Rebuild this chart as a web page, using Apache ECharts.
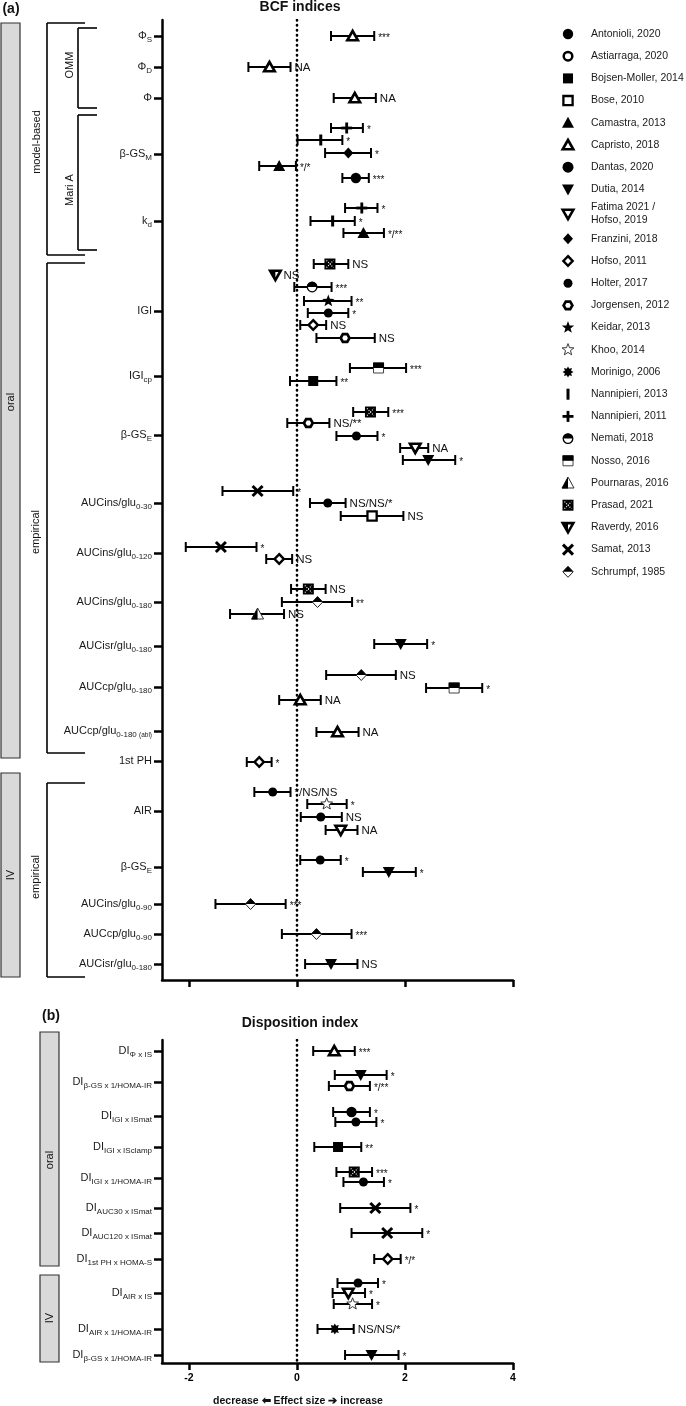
<!DOCTYPE html>
<html><head><meta charset="utf-8">
<script src="https://cdn.jsdelivr.net/npm/echarts@6/dist/echarts.min.js"></script>
<style>html,body{margin:0;padding:0;background:#fff}#c{width:686px;height:1406px}</style>
</head><body><div id="c"></div>
<script>
const FONT = '"Liberation Sans", Arial, sans-serif';

// ---- studies (legend order) ----
const studyKeys = ['Ant','Ast','Boj','Bos','Cam','Cap','Dan','Dut','Fat','Fra','Hof11','Hol','Jor','Kei','Kho','Mor','N13','N11','Nem','Nos','Pou','Pra','Rav','Sam','Sch'];
const studyNames = ['Antonioli, 2020','Astiarraga, 2020','Bojsen-Moller, 2014','Bose, 2010','Camastra, 2013','Capristo, 2018','Dantas, 2020','Dutia, 2014','Fatima 2021 /\nHofso, 2019','Franzini, 2018','Hofso, 2011','Holter, 2017','Jorgensen, 2012','Keidar, 2013','Khoo, 2014','Morinigo, 2006','Nannipieri, 2013','Nannipieri, 2011','Nemati, 2018','Nosso, 2016','Pournaras, 2016','Prasad, 2021','Raverdy, 2016','Samat, 2013','Schrumpf, 1985'];
const studyShapes = ['circle','ocircle','square','osquare','tri','otri','dotcircle','dtri','odtri','diamond','odiamond','hex','ohex','star','ostar','burst','vbar','plus','halfcircle','halfsquare','halftri','xsquare','halfdtri','cross','halfdiamond'];

// ---- panel (a): BCF indices ----
const topCatMain = ['Φ','Φ','Φ','β-GS','k','IGI','IGI','β-GS','AUCins/glu','AUCins/glu','AUCins/glu','AUCisr/glu','AUCcp/glu','AUCcp/glu','1st PH','AIR','β-GS','AUCins/glu','AUCcp/glu','AUCisr/glu'];
const topCatSub  = ['S','D','','M','d','','cp','E','0-30','0-120','0-180','0-180','0-180','0-180 (abl)','','','E','0-90','0-90','0-180'];
const topCatRow  = [1.6,4.7,7.8,13.4,20.1,29.1,35.6,41.5,48.3,53.3,58.2,62.6,66.7,71.1,74.1,79.1,84.7,88.4,91.4,94.4];

const topStudy = ['Cap','Cap','Cap', 'N11','N13','Fra','Cam','Ant', 'N11','N13','Cam', 'Pra','Rav','Nem','Kei','Hol','Hof11','Jor', 'Nos','Boj', 'Pra','Jor','Hol','Fat','Dut', 'Sam','Hol','Bos', 'Sam','Hof11', 'Pra','Sch','Pou', 'Dut', 'Sch','Nos','Cap', 'Cap', 'Hof11', 'Hol','Kho','Hol','Fat', 'Hol','Dut', 'Sch', 'Sch', 'Dut'];
const topRow   = [1.6,4.7,7.8, 10.8,12.0,13.3,14.6,15.8, 18.8,20.1,21.3, 24.4,25.5,26.7,28.1,29.3,30.5,31.8, 34.8,36.1, 39.2,40.3,41.6,42.8,44.0, 47.1,48.3,49.6, 52.7,53.9, 56.9,58.2,59.4, 62.4, 65.5,66.8,68.0, 71.2, 74.2, 77.2,78.4,79.7,81.0, 84.0,85.2, 88.4, 91.4, 94.4];
const topMean  = [1.03,-0.51,1.07, 0.92,0.44,0.95,-0.33,1.09, 1.20,0.66,1.23, 0.61,-0.40,0.28,0.58,0.58,0.30,0.89, 1.51,0.30, 1.36,0.21,1.10,2.19,2.43, -0.73,0.57,1.39, -1.41,-0.33, 0.21,0.38,-0.73, 1.92, 1.19,2.91,0.06, 0.75, -0.70, -0.45,0.55,0.44,0.81, 0.43,1.70, -0.86, 0.36, 0.63];
const topLo    = [0.63,-0.90,0.68, 0.63,0.01,0.52,-0.70,0.84, 0.89,0.25,0.86, 0.31,null,-0.05,0.13,0.20,0.06,0.36, 0.98,-0.13, 1.04,-0.18,0.73,1.91,1.96, -1.38,0.24,0.81, -2.06,-0.57, -0.11,-0.28,-1.24, 1.43, 0.54,2.39,-0.33, 0.36, -0.93, -0.79,0.19,0.07,0.53, 0.06,1.22, -1.51, -0.28, 0.15];
const topHi    = [1.43,-0.12,1.46, 1.22,0.84,1.37,-0.02,1.33, 1.49,1.07,1.61, 0.95,null,0.64,1.01,0.95,0.54,1.44, 2.02,0.73, 1.69,0.60,1.49,2.43,2.93, -0.07,0.90,1.97, -0.75,-0.09, 0.53,1.02,-0.24, 2.41, 1.83,3.43,0.44, 1.14, -0.47, -0.12,0.92,0.83,1.12, 0.81,2.20, -0.21, 1.01, 1.12];
const topSig   = ['***','NA','NA', '*','*','*','*/*','***', '*','*','*/**', 'NS','NS','***','**','*','NS','NS', '***','**', '***','NS/**','*','NA','*', '*','NS/NS/*','NS', '*','NS', 'NS','**','NS', '*', 'NS','*','NA', 'NA', '*', '*/NS/NS','*','NS','NA', '*','*', '***','***','NS'];

// ---- panel (b): Disposition index ----
const botCatMain = ['DI','DI','DI','DI','DI','DI','DI','DI','DI','DI','DI'];
const botCatSub  = ['Φ x IS','β-GS x 1/HOMA-IR','IGI x ISmat','IGI x ISclamp','IGI x 1/HOMA-IR','AUC30 x ISmat','AUC120 x ISmat','1st PH x HOMA-S','AIR x IS','AIR x 1/HOMA-IR','β-GS x 1/HOMA-IR'];
const botCatRow  = [1.1,4.2,7.6,10.7,13.8,16.8,19.3,21.9,25.3,28.9,31.5];

const botStudy = ['Cap','Dut','Jor','Ant','Hol','Boj','Pra','Hol','Sam','Sam','Hof11','Hol','Fat','Kho','Mor','Dut'];
const botRow   = [1.1,3.5,4.6,7.2,8.2,10.7,13.2,14.2,16.8,19.3,21.9,24.3,25.3,26.4,28.9,31.5];
const botMean  = [0.69,1.18,0.97,1.01,1.09,0.76,1.06,1.23,1.45,1.67,1.68,1.13,0.95,1.03,0.70,1.38];
const botLo    = [0.30,0.70,0.59,0.67,0.71,0.32,0.73,0.86,0.80,1.01,1.43,0.75,0.66,0.68,0.38,0.89];
const botHi    = [1.07,1.66,1.35,1.35,1.47,1.19,1.39,1.61,2.10,2.32,1.92,1.50,1.26,1.39,1.05,1.88];
const botSig   = ['***','*','*/**','*','*','**','***','*','*','*','*/*','*','*','*','NS/NS/*','*'];

const xTicks = [-2, 0, 2, 4];

// ---------- marker drawing ----------
const B = '#000', W = '#fff';
function starPts(cx, cy, n, ro, ri) {
  const p = [];
  for (let i = 0; i < 2 * n; i++) {
    const a = -Math.PI / 2 + i * Math.PI / n, r = i % 2 === 0 ? ro : ri;
    p.push([cx + r * Math.cos(a), cy + r * Math.sin(a)]);
  }
  return p;
}
function hexPts(cx, cy, r) {
  const p = [];
  for (let i = 0; i < 6; i++) { const a = i * Math.PI / 3; p.push([cx + r * Math.cos(a), cy + r * Math.sin(a)]); }
  return p;
}
function poly(points, style) { return { type: 'polygon', shape: { points }, style }; }
function mk(shape, x, y) {
  switch (shape) {
    case 'circle': return [{ type: 'circle', shape: { cx: x, cy: y, r: 5.2 }, style: { fill: B } }];
    case 'ocircle': return [{ type: 'circle', shape: { cx: x, cy: y, r: 4.3 }, style: { fill: W, stroke: B, lineWidth: 2.5 } }];
    case 'square': return [{ type: 'rect', shape: { x: x - 5, y: y - 5, width: 10, height: 10 }, style: { fill: B } }];
    case 'osquare': return [{ type: 'rect', shape: { x: x - 4.6, y: y - 4.6, width: 9.2, height: 9.2 }, style: { fill: W, stroke: B, lineWidth: 2.3 } }];
    case 'tri': return [poly([[x, y - 6], [x + 6, y + 5], [x - 6, y + 5]], { fill: B })];
    case 'otri': return [poly([[x, y - 5], [x + 5.3, y + 4.3], [x - 5.3, y + 4.3]], { fill: W, stroke: B, lineWidth: 2.6, lineJoin: 'miter' })];
    case 'dtri': return [poly([[x, y + 6], [x + 6, y - 5], [x - 6, y - 5]], { fill: B })];
    case 'odtri': return [poly([[x, y + 5], [x + 5.3, y - 4.3], [x - 5.3, y - 4.3]], { fill: W, stroke: B, lineWidth: 2.6, lineJoin: 'miter' })];
    case 'dotcircle': return [{ type: 'circle', shape: { cx: x, cy: y, r: 5.5 }, style: { fill: B } }];
    case 'diamond': return [poly([[x, y - 5.5], [x + 5, y], [x, y + 5.5], [x - 5, y]], { fill: B })];
    case 'odiamond': return [poly([[x, y - 4.8], [x + 4.6, y], [x, y + 4.8], [x - 4.6, y]], { fill: W, stroke: B, lineWidth: 2.5 })];
    case 'hex': return [{ type: 'circle', shape: { cx: x, cy: y, r: 4.5 }, style: { fill: B } }];
    case 'ohex': return [poly(hexPts(x, y, 4.4), { fill: W, stroke: B, lineWidth: 2.7 })];
    case 'star': return [poly(starPts(x, y, 5, 6.5, 2.7), { fill: B })];
    case 'ostar': return [poly(starPts(x, y, 5, 6.2, 2.6), { fill: W, stroke: '#222', lineWidth: 0.9 })];
    case 'burst': return [poly(starPts(x, y, 8, 5.6, 3.4), { fill: B })];
    case 'vbar': return [{ type: 'rect', shape: { x: x - 1.5, y: y - 5.5, width: 3, height: 11 }, style: { fill: B } }];
    case 'plus': return [
      { type: 'rect', shape: { x: x - 5.5, y: y - 1.4, width: 11, height: 2.8 }, style: { fill: B } },
      { type: 'rect', shape: { x: x - 1.4, y: y - 5.5, width: 2.8, height: 11 }, style: { fill: B } }];
    case 'halfcircle': return [
      { type: 'circle', shape: { cx: x, cy: y, r: 4.8 }, style: { fill: W, stroke: B, lineWidth: 1.3 } },
      { type: 'sector', shape: { cx: x, cy: y, r0: 0, r: 5.2, startAngle: Math.PI, endAngle: 2 * Math.PI, clockwise: true }, style: { fill: B } }];
    case 'halfsquare': return [
      { type: 'rect', shape: { x: x - 5, y: y - 5, width: 10, height: 10 }, style: { fill: W, stroke: '#444', lineWidth: 1 } },
      { type: 'rect', shape: { x: x - 5.5, y: y - 5.5, width: 11, height: 5.5 }, style: { fill: B } }];
    case 'halftri': return [
      poly([[x, y - 6], [x + 6, y + 5], [x - 6, y + 5]], { fill: W, stroke: '#333', lineWidth: 1 }),
      poly([[x, y - 6], [x, y + 5.5], [x - 6.3, y + 5.5]], { fill: B })];
    case 'xsquare': return [
      { type: 'rect', shape: { x: x - 5.5, y: y - 5.5, width: 11, height: 11 }, style: { fill: B } },
      { type: 'line', shape: { x1: x - 3.5, y1: y - 3.5, x2: x + 3.5, y2: y + 3.5 }, style: { stroke: W, lineWidth: 1.1, lineDash: [1, 1.4] } },
      { type: 'line', shape: { x1: x - 3.5, y1: y + 3.5, x2: x + 3.5, y2: y - 3.5 }, style: { stroke: W, lineWidth: 1.1, lineDash: [1, 1.4] } }];
    case 'halfdtri': return [
      poly([[x, y + 5], [x + 5.3, y - 4.3], [x - 5.3, y - 4.3]], { fill: W, stroke: B, lineWidth: 2.6, lineJoin: 'miter' }),
      poly([[x, y + 5], [x, y - 4.3], [x - 5.3, y - 4.3]], { fill: B })];
    case 'cross': return [
      { type: 'line', shape: { x1: x - 5, y1: y - 5, x2: x + 5, y2: y + 5 }, style: { stroke: B, lineWidth: 3 } },
      { type: 'line', shape: { x1: x - 5, y1: y + 5, x2: x + 5, y2: y - 5 }, style: { stroke: B, lineWidth: 3 } }];
    case 'halfdiamond': return [
      poly([[x, y - 5.5], [x + 5.2, y], [x, y + 5.5], [x - 5.2, y]], { fill: W, stroke: '#222', lineWidth: 1 }),
      poly([[x, y - 5.5], [x + 5.2, y], [x - 5.2, y]], { fill: B })];
  }
  return [];
}
function shapeOf(key) { return studyShapes[studyKeys.indexOf(key)]; }

function makeRender(study, lo, hi, sig) {
  return function (params, api) {
    const i = params.dataIndex;
    const yv = api.value(1);
    const c = api.coord([api.value(0), yv]);
    const ch = [];
    let labelX = c[0] + 8;
    if (lo[i] != null && hi[i] != null) {
      const a = api.coord([lo[i], yv]), b = api.coord([hi[i], yv]);
      const ls = { stroke: B, lineWidth: 2 };
      ch.push({ type: 'line', shape: { x1: a[0], y1: a[1], x2: b[0], y2: b[1] }, style: ls });
      ch.push({ type: 'line', shape: { x1: a[0], y1: a[1] - 5, x2: a[0], y2: a[1] + 5 }, style: ls });
      ch.push({ type: 'line', shape: { x1: b[0], y1: b[1] - 5, x2: b[0], y2: b[1] + 5 }, style: ls });
      labelX = b[0] + 4;
    }
    ch.push(...mk(shapeOf(study[i]), c[0], c[1]));
    const s = sig[i];
    const onlyStars = !/[A-Z]/.test(s);
    ch.push({
      type: 'text', x: labelX, y: c[1] + (onlyStars ? 2.5 : 0.5),
      style: { text: s, fill: '#111', font: (onlyStars ? '10px ' : '11.5px ') + FONT, align: 'left', verticalAlign: 'middle', textAlign: 'left', textVerticalAlign: 'middle' }
    });
    return { type: 'group', children: ch };
  };
}

function catFormatter(rows, mains, subs) {
  return function (value) {
    const i = rows.findIndex(r => Math.abs(r - value) < 1e-6);
    if (i < 0) return '';
    let s = '{m|' + mains[i] + '}';
    const sub = subs[i];
    if (sub) {
      const m = sub.match(/^(.*?)\s*(\(.*\))$/);
      if (m) s += '{s|' + m[1] + ' }{x|' + m[2] + '}';
      else s += '{s|' + sub + '}';
    }
    return s;
  };
}
const rich = {
  m: { fontSize: 11, fontFamily: FONT, color: '#1a1a1a' },
  s: { fontSize: 8, fontFamily: FONT, color: '#1a1a1a', padding: [8, 0, 0, 0] },
  x: { fontSize: 6.5, fontFamily: FONT, color: '#1a1a1a', padding: [8, 0, 0, 0] }
};
const richB = {
  m: { fontSize: 11, fontFamily: FONT, color: '#1a1a1a' },
  s: { fontSize: 8, fontFamily: FONT, color: '#1a1a1a', padding: [8, 0, 0, 0] },
  x: { fontSize: 6.5, fontFamily: FONT, color: '#1a1a1a', padding: [8, 0, 0, 0] }
};

function xAxisCfg(gi, showLabels) {
  return {
    gridIndex: gi, type: 'value', min: -2.5, max: 4, position: 'bottom',
    axisLine: { show: true, onZero: false, lineStyle: { color: '#000', width: 2.5 } },
    axisTick: { show: true, customValues: xTicks, length: 7, lineStyle: { color: '#000', width: 2.5 } },
    axisLabel: { show: showLabels, customValues: xTicks, fontSize: 10.5, fontWeight: 'bold', fontFamily: FONT, color: '#000', margin: 10 },
    splitLine: { show: false }
  };
}
function yAxisCfg(gi, max, rows, mains, subs, r) {
  return {
    gridIndex: gi, type: 'value', inverse: true, min: 0, max: max, position: 'left',
    axisLine: { show: true, onZero: false, lineStyle: { color: '#000', width: 2.5 } },
    axisTick: { show: true, customValues: rows, length: 8, lineStyle: { color: '#000', width: 2.5 } },
    axisLabel: { show: true, customValues: rows, margin: 10, formatter: catFormatter(rows, mains, subs), rich: r },
    splitLine: { show: false }
  };
}

// ---------- decorations (layout) ----------
const g = [];
function txt(x, y, text, font, opts) {
  return Object.assign({ type: 'text', x, y, style: { text, font, fill: '#111', align: 'center', verticalAlign: 'middle', textAlign: 'center', textVerticalAlign: 'middle' } }, opts || {});
}
function vtxt(x, y, text) { return txt(x, y, text, '11px ' + FONT, { rotation: Math.PI / 2 }); }
function bracket(x, y1, y2, x2) {
  const st = { stroke: '#000', lineWidth: 1.6 };
  return [
    { type: 'line', shape: { x1: x, y1: y1, x2: x, y2: y2 }, style: st },
    { type: 'line', shape: { x1: x, y1: y1, x2: x2, y2: y1 }, style: st },
    { type: 'line', shape: { x1: x, y1: y2, x2: x2, y2: y2 }, style: st }];
}
function box(x, y, w, h) {
  return { type: 'rect', shape: { x, y, width: w, height: h }, style: { fill: '#d9d9d9', stroke: '#333', lineWidth: 1.2 } };
}
g.push(txt(11, 9, '(a)', 'bold 14px ' + FONT));
g.push(txt(300, 7, 'BCF indices', 'bold 14px ' + FONT));
g.push(txt(51, 1016, '(b)', 'bold 14px ' + FONT));
g.push(txt(300, 1023, 'Disposition index', 'bold 14px ' + FONT));
g.push(txt(298, 1401, 'decrease ⬅ Effect size ➔ increase', 'bold 10.5px ' + FONT));
// panel a side annotations
g.push(box(1, 23, 19, 735), box(1, 773, 19, 204));
g.push(vtxt(11, 402, 'oral'), vtxt(11, 875, 'IV'));
g.push(...bracket(47, 23, 255, 85), vtxt(37, 142, 'model-based'));
g.push(...bracket(78, 28, 108, 97), vtxt(70, 65, 'OMM'));
g.push(...bracket(78, 115, 250, 97), vtxt(70, 190, 'Mari A'));
g.push(...bracket(47, 263, 753, 85), vtxt(36, 532, 'empirical'));
g.push(...bracket(47, 783, 977, 85), vtxt(36, 877, 'empirical'));
// panel b side annotations
g.push(box(40, 1032, 19, 234), box(40, 1275, 19, 87));
g.push(vtxt(50, 1160, 'oral'), vtxt(50, 1318, 'IV'));
// legend
studyNames.forEach((name, i) => {
  const y = 34 + 22.2 * i + (i >= 8 ? 2.5 : 0) + (i >= 9 ? 2.5 : 0);
  g.push(...mk(studyShapes[i], 568, y));
  g.push({ type: 'text', x: 591, y: y, style: { text: name, font: '10.5px ' + FONT, fill: '#1a1a1a', align: 'left', verticalAlign: 'middle', textAlign: 'left', textVerticalAlign: 'middle', lineHeight: 13 } });
});

const chart = echarts.init(document.getElementById('c'), null, { renderer: 'canvas' });
chart.setOption({
  animation: false,
  backgroundColor: '#fff',
  grid: [
    { left: 162, top: 20, width: 351, height: 960 },
    { left: 162, top: 1040, width: 351, height: 323 }
  ],
  xAxis: [xAxisCfg(0, false), xAxisCfg(1, true)],
  yAxis: [
    yAxisCfg(0, 96, topCatRow, topCatMain, topCatSub, rich),
    yAxisCfg(1, 32.3, botCatRow, botCatMain, botCatSub, richB)
  ],
  series: [
    { type: 'line', xAxisIndex: 0, yAxisIndex: 0, data: [[0, 0], [0, 96]], symbol: 'none', silent: true, z: 1,
      lineStyle: { color: '#000', width: 2.6, type: [0.5, 4.5], cap: 'round' } },
    { type: 'line', xAxisIndex: 1, yAxisIndex: 1, data: [[0, 0], [0, 32.3]], symbol: 'none', silent: true, z: 1,
      lineStyle: { color: '#000', width: 2.6, type: [0.5, 4.5], cap: 'round' } },
    { type: 'custom', xAxisIndex: 0, yAxisIndex: 0, clip: false, z: 5,
      renderItem: makeRender(topStudy, topLo, topHi, topSig),
      data: topMean.map((m, i) => [m, topRow[i]]), encode: { x: 0, y: 1 } },
    { type: 'custom', xAxisIndex: 1, yAxisIndex: 1, clip: false, z: 5,
      renderItem: makeRender(botStudy, botLo, botHi, botSig),
      data: botMean.map((m, i) => [m, botRow[i]]), encode: { x: 0, y: 1 } }
  ],
  graphic: { elements: g }
});
</script>
</body></html>
